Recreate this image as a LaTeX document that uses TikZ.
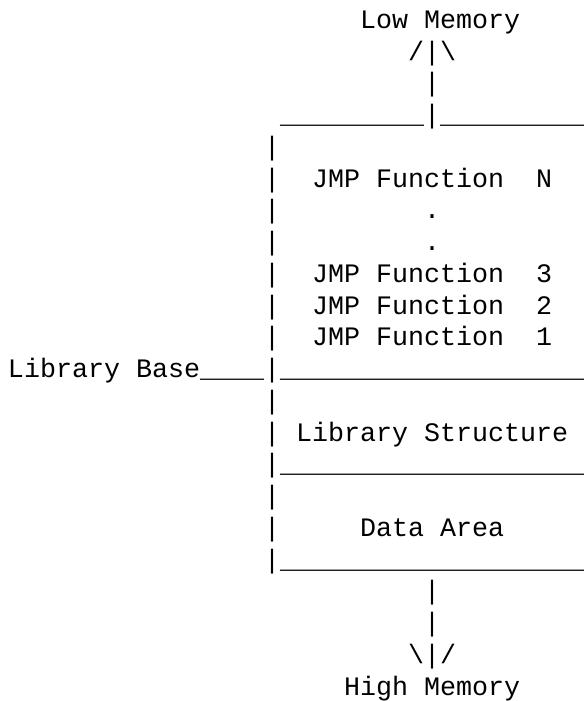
\documentclass[tikz,border=0pt]{standalone}
\usepackage{fontspec}
\newfontfamily\asciimono{Liberation Mono}
\begin{document}
\begin{tikzpicture}[x=1pt,y=-1pt,
  txt/.style={anchor=base west,inner sep=0pt,outer sep=0pt,
    font=\asciimono\fontsize{26.67}{32}\selectfont\frenchspacing,text=black}]
\useasboundingbox (0,0) rectangle (588,701);
\newcommand\asc[4]{\node[txt] (#1) at ({8+16*#2},{28.3+31.75*#3}) {#4};}
\def\us{\_\_\_\_\_\_\_\_\_}
\asc{lowmem}{22}{0}{Low~Memory}
\asc{uparrow}{25}{1}{/|\textbackslash}
\asc{upstem}{26}{2}{|}
\asc{topline}{17}{3}{\us|\us}
\asc{b4}{16}{4}{|}
\asc{jmpn}{16}{5}{|~~JMP~Function~~N}
\asc{dot1}{16}{6}{|~~~~~~~~~.}
\asc{dot2}{16}{7}{|~~~~~~~~~.}
\asc{jmp3}{16}{8}{|~~JMP~Function~~3}
\asc{jmp2}{16}{9}{|~~JMP~Function~~2}
\asc{jmp1}{16}{10}{|~~JMP~Function~~1}
\asc{libbase}{0}{11}{Library~Base\_\_\_\_|\us\us\_}
\asc{b12}{16}{12}{|}
\asc{libstruct}{16}{13}{|~Library~Structure}
\asc{line14}{16}{14}{|\us\us\_}
\asc{b15}{16}{15}{|}
\asc{data}{16}{16}{|~~~~~Data~Area}
\asc{line17}{16}{17}{|\us\us\_}
\asc{downstem1}{26}{18}{|}
\asc{downstem2}{26}{19}{|}
\asc{downarrow}{25}{20}{\textbackslash|/}
\asc{highmem}{21}{21}{High~Memory}
\end{tikzpicture}
\end{document}
